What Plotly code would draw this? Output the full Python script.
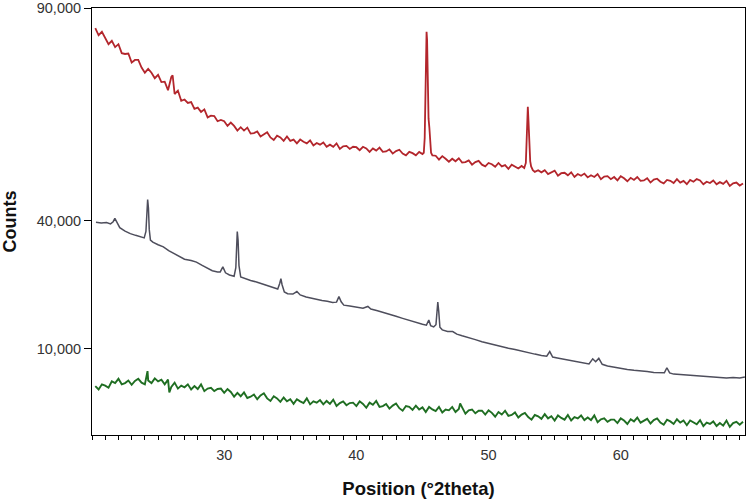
import plotly.graph_objects as go

# ---- data (thousands of counts) ----
red_x = [20.25, 20.5, 20.75, 21.0, 21.25, 21.5, 21.75, 22.0, 22.25, 22.5, 22.75, 23.0, 23.25, 23.5, 23.75,
         24.0, 24.25, 24.5, 24.75, 25.0, 25.25, 25.5, 25.75, 26.0, 26.1, 26.25, 26.5, 26.75, 27.0, 27.25,
         27.5, 27.75, 28.0, 28.25, 28.5, 28.75, 29.0, 29.25, 29.5, 29.75, 30.0, 30.25, 30.5, 30.75, 31.0,
         31.25, 31.5, 31.75, 32.0, 32.25, 32.5, 32.75, 33.0, 33.25, 33.5, 33.75, 34.0, 34.25, 34.5, 34.75,
         35.0, 35.25, 35.5, 35.75, 36.0, 36.25, 36.5, 36.75, 37.0, 37.25, 37.5, 37.75, 38.0, 38.25, 38.5,
         38.75, 39.0, 39.25, 39.5, 39.75, 40.0, 40.25, 40.5, 40.75, 41.0, 41.25, 41.5, 41.75, 42.0, 42.25,
         42.5, 42.75, 43.0, 43.25, 43.5, 43.75, 44.0, 44.25, 44.5, 44.75, 45.0, 45.1, 45.17, 45.22, 45.27,
         45.31, 45.35, 45.4, 45.46, 45.52, 45.58, 45.65, 45.75, 46.0, 46.25, 46.5, 46.75, 47.0, 47.25, 47.5,
         47.75, 48.0, 48.25, 48.5, 48.75, 49.0, 49.25, 49.5, 49.75, 50.0, 50.25, 50.5, 50.75, 51.0, 51.25,
         51.5, 51.75, 52.0, 52.25, 52.5, 52.7, 52.82, 52.88, 52.93, 52.97, 53.02, 53.08, 53.15, 53.22, 53.35,
         53.5, 53.75, 54.0, 54.25, 54.5, 54.75, 55.0, 55.25, 55.5, 55.75, 56.0, 56.25, 56.5, 56.75, 57.0,
         57.25, 57.5, 57.75, 58.0, 58.25, 58.5, 58.75, 59.0, 59.25, 59.5, 59.75, 60.0, 60.25, 60.5, 60.75,
         61.0, 61.25, 61.5, 61.75, 62.0, 62.25, 62.5, 62.75, 63.0, 63.25, 63.5, 63.75, 64.0, 64.25, 64.5,
         64.75, 65.0, 65.25, 65.5, 65.75, 66.0, 66.25, 66.5, 66.75, 67.0, 67.25, 67.5, 67.75, 68.0, 68.25,
         68.5, 68.75, 69.0, 69.25]
red_k = [85.3, 83.6, 84.4, 83.1, 81.5, 82.3, 80.8, 81.5, 79.4, 79.2, 79.3, 77.2, 77.8, 77.8, 76.0,
         74.8, 75.7, 74.8, 73.5, 74.3, 72.6, 72.7, 70.7, 73.8, 74.2, 69.8, 70.6, 68.2, 68.5, 67.7,
         67.9, 66.3, 66.6, 65.6, 66.2, 64.3, 64.7, 64.6, 63.4, 63.7, 63.4, 62.3, 63.1, 62.3, 61.2,
         62.0, 61.2, 61.9, 60.5, 60.6, 61.0, 59.8, 60.4, 60.8, 59.6, 59.0, 60.0, 59.6, 58.8, 59.8,
         58.8, 59.1, 58.2, 59.1, 58.6, 58.2, 58.9, 57.7, 58.3, 57.9, 58.4, 57.4, 57.9, 57.4, 58.2,
         56.9, 57.5, 57.6, 56.9, 57.4, 57.3, 56.6, 57.4, 57.0, 56.2, 57.0, 56.5, 57.2, 56.2, 56.3,
         56.8, 55.8, 56.4, 56.7, 55.8, 55.4, 56.2, 55.9, 55.4, 56.2, 55.7, 56.0, 59.5, 70.0, 81.0,
         84.4, 82.5, 73.0, 64.0, 62.0, 58.5, 56.0, 55.4, 55.3, 54.4, 55.2, 54.6, 53.9, 54.6, 54.0,
         54.7, 53.7, 53.8, 54.2, 53.2, 53.8, 54.1, 53.2, 52.8, 53.6, 53.3, 52.7, 53.6, 52.8, 53.1,
         52.2, 53.2, 52.7, 52.3, 52.9, 52.4, 53.6, 59.0, 65.5, 66.8, 63.5, 57.5, 54.0, 52.8, 51.9,
         51.5, 51.9, 51.4, 51.9, 51.0, 51.5, 51.8, 50.6, 51.2, 51.3, 50.7, 51.4, 50.3, 51.0, 50.6,
         51.1, 50.2, 50.7, 50.3, 51.0, 49.8, 50.4, 50.5, 49.8, 50.3, 49.5, 50.5, 50.0, 49.3, 50.1,
         49.6, 50.3, 49.4, 49.5, 50.0, 49.0, 49.7, 49.9, 49.2, 48.8, 49.6, 49.4, 48.9, 49.8, 49.0,
         49.4, 48.6, 49.6, 49.2, 49.8, 49.5, 48.6, 49.2, 48.9, 49.5, 48.6, 49.1, 48.7, 49.4, 48.2,
         48.8, 49.0, 48.3, 48.8]

gray_x = [20.3, 20.7, 21.1, 21.4, 21.6, 21.73, 21.9, 22.1, 22.5, 22.9, 23.3, 23.7, 23.95, 24.08, 24.15,
          24.21, 24.27, 24.33, 24.42, 24.6, 25.0, 25.4, 25.8, 26.2, 26.6, 27.0, 27.5, 27.9, 28.3, 28.7,
          29.1, 29.5, 29.7, 29.9, 30.1, 30.4, 30.75, 30.88, 30.94, 30.99, 31.05, 31.12, 31.25, 31.6, 32.0,
          32.5, 32.9, 33.3, 33.7, 34.05, 34.2, 34.29, 34.38, 34.55, 34.8, 35.2, 35.5, 35.75, 36.2, 36.6,
          37.0, 37.4, 37.8, 38.2, 38.5, 38.68, 38.85, 39.05, 39.5, 40.0, 40.5, 40.87, 41.1, 41.6, 42.1,
          42.5, 43.0, 43.5, 44.0, 44.5, 45.0, 45.3, 45.48, 45.62, 45.85, 46.02, 46.09, 46.16, 46.23, 46.32,
          46.5, 46.9, 47.29, 47.6, 48.0, 48.5, 49.0, 49.5, 50.0, 50.5, 51.0, 51.5, 52.0, 52.5, 53.0,
          53.5, 54.0, 54.4, 54.63, 54.85, 55.2, 55.7, 56.2, 56.7, 57.2, 57.6, 57.88, 58.1, 58.34, 58.6,
          59.0, 59.5, 60.0, 60.5, 61.0, 61.5, 62.0, 62.5, 63.0, 63.3, 63.49, 63.7, 64.0, 64.5, 65.0,
          65.5, 66.0, 66.5, 67.0, 67.5, 68.0, 68.5, 69.0, 69.39]
gray_k = [39.7, 39.5, 39.6, 39.3, 39.8, 40.6, 39.6, 38.4, 37.6, 37.0, 36.6, 36.3, 36.0, 37.5, 42.5,
          45.0, 43.0, 38.0, 35.5, 35.0, 34.4, 33.9, 33.0, 32.3, 31.5, 31.0, 30.7, 30.3, 29.6, 28.9,
          28.3, 28.0, 28.0, 29.2, 27.8, 27.3, 27.0, 29.0, 35.0, 37.5, 35.5, 29.5, 26.8, 26.4, 26.0,
          25.6, 25.2, 24.8, 24.3, 24.0, 25.3, 26.4, 25.0, 23.3, 22.9, 22.8, 23.4, 22.6, 22.1, 21.8,
          21.6, 21.3, 21.1, 20.8, 20.9, 22.2, 21.0, 20.2, 20.0, 19.8, 19.5, 19.9, 19.3, 18.9, 18.5,
          18.1, 17.6, 17.1, 16.6, 16.2, 15.7, 15.5, 16.7, 15.4, 15.1, 15.6, 18.5, 20.9, 18.8, 15.0,
          14.4, 14.0, 14.0, 13.4, 13.0, 12.6, 12.1, 11.6, 11.2, 10.9, 10.5, 10.1, 9.8, 9.4, 9.0,
          8.7, 8.4, 8.2, 9.3, 8.0, 7.8, 7.5, 7.1, 6.8, 6.5, 6.4, 7.6, 6.9, 7.7, 6.3,
          5.9, 5.6, 5.3, 5.1, 4.9, 4.8, 4.6, 4.4, 4.3, 4.3, 5.5, 4.3, 4.0, 3.9, 3.8,
          3.6, 3.5, 3.4, 3.3, 3.2, 3.1, 3.2, 3.1, 3.3]

green_x = [20.25, 20.5, 20.75, 21.0, 21.25, 21.5, 21.75, 22.0, 22.25, 22.5, 22.75, 23.0, 23.25, 23.5, 23.75,
           24.0, 24.2, 24.25, 24.5, 24.75, 25.0, 25.25, 25.5, 25.75, 25.85, 26.0, 26.25, 26.5, 26.75, 27.0,
           27.25, 27.5, 27.75, 28.0, 28.25, 28.5, 28.75, 29.0, 29.25, 29.5, 29.75, 30.0, 30.25, 30.5, 30.75,
           31.0, 31.25, 31.5, 31.75, 32.0, 32.25, 32.5, 32.75, 33.0, 33.25, 33.5, 33.75, 34.0, 34.25, 34.5,
           34.75, 35.0, 35.25, 35.5, 35.75, 36.0, 36.25, 36.5, 36.75, 37.0, 37.25, 37.5, 37.75, 38.0, 38.25,
           38.5, 38.75, 39.0, 39.25, 39.5, 39.75, 40.0, 40.25, 40.5, 40.75, 41.0, 41.25, 41.5, 41.75, 42.0,
           42.25, 42.5, 42.75, 43.0, 43.25, 43.5, 43.75, 44.0, 44.25, 44.5, 44.75, 45.0, 45.25, 45.5, 45.75,
           46.0, 46.25, 46.5, 46.75, 47.0, 47.25, 47.5, 47.75, 47.85, 48.0, 48.25, 48.5, 48.75, 49.0, 49.25,
           49.5, 49.75, 50.0, 50.25, 50.5, 50.75, 51.0, 51.25, 51.5, 51.75, 52.0, 52.25, 52.5, 52.75, 53.0,
           53.25, 53.5, 53.75, 54.0, 54.25, 54.5, 54.75, 55.0, 55.25, 55.5, 55.75, 56.0, 56.25, 56.5, 56.75,
           57.0, 57.25, 57.5, 57.75, 58.0, 58.25, 58.5, 58.75, 59.0, 59.25, 59.5, 59.75, 60.0, 60.25, 60.5,
           60.75, 61.0, 61.25, 61.5, 61.75, 62.0, 62.25, 62.5, 62.75, 63.0, 63.25, 63.5, 63.75, 64.0, 64.25,
           64.5, 64.75, 65.0, 65.25, 65.5, 65.75, 66.0, 66.25, 66.5, 66.75, 67.0, 67.25, 67.5, 67.75, 68.0,
           68.25, 68.5, 68.75, 69.0, 69.25]
green_k = [1.2, 0.4, 1.6, 1.3, 0.8, 2.3, 1.9, 2.9, 1.6, 1.9, 2.5, 1.5, 2.4, 2.9, 2.0,
           1.6, 4.7, 2.5, 1.9, 3.0, 2.3, 2.7, 1.6, 2.7, -0.3, 1.0, 2.0, 0.6, 1.3, 0.9,
           1.6, 0.4, 1.2, 0.5, 1.6, 0.0, 0.6, 0.8, 0.0, 0.5, 0.6, -0.4, 0.5, -0.2, -1.3,
           -0.4, -1.2, -0.3, -1.6, -1.3, -0.8, -1.9, -1.0, -0.5, -1.7, -2.3, -1.2, -1.7, -2.5, -1.5,
           -2.4, -1.9, -3.0, -1.9, -2.4, -2.8, -1.7, -3.1, -2.4, -2.7, -2.1, -3.1, -2.3, -3.0, -2.0,
           -3.5, -2.8, -2.4, -3.3, -2.8, -2.7, -3.5, -2.4, -3.0, -3.9, -2.7, -3.2, -2.3, -3.7, -3.5,
           -3.0, -4.1, -3.4, -2.9, -4.0, -4.6, -3.5, -3.7, -4.4, -3.4, -4.3, -3.8, -4.9, -3.7, -4.3,
           -4.7, -3.7, -5.0, -4.3, -4.5, -3.7, -4.9, -4.2, -2.9, -3.8, -5.3, -4.5, -4.3, -5.2, -4.6,
           -4.6, -5.5, -4.5, -5.1, -6.0, -4.9, -5.5, -4.6, -5.8, -5.6, -5.0, -6.2, -5.5, -5.1, -6.1,
           -6.7, -5.6, -5.9, -6.5, -5.4, -6.4, -5.9, -6.9, -5.7, -6.3, -6.7, -5.6, -6.9, -6.1, -6.4,
           -5.7, -6.8, -6.2, -6.8, -5.7, -7.3, -6.6, -6.4, -7.2, -6.7, -6.7, -7.5, -6.4, -6.9, -7.7,
           -6.6, -7.1, -6.2, -7.4, -7.0, -6.5, -7.6, -6.8, -6.4, -7.4, -7.9, -6.7, -7.1, -7.7, -6.6,
           -7.4, -6.9, -8.0, -6.9, -7.4, -7.8, -6.8, -8.2, -7.4, -7.7, -7.1, -8.2, -7.5, -8.1, -6.9,
           -8.4, -7.5, -7.2, -7.9, -7.2]

y_ticks = [10000, 40000, 90000]
x_ticks = [30, 40, 50, 60]

red_counts = [v * 1000 for v in red_k]
gray_counts = [v * 1000 for v in gray_k]
green_counts = [v * 1000 for v in green_k]

fig = go.Figure()
fig.add_trace(go.Scatter(x=red_x, y=red_counts, mode="lines",
                         line=dict(color="#b3262c", width=1.8)))
fig.add_trace(go.Scatter(x=gray_x, y=gray_counts, mode="lines",
                         line=dict(color="#4e4e5c", width=1.5)))
fig.add_trace(go.Scatter(x=green_x, y=green_counts, mode="lines",
                         line=dict(color="#1f6e22", width=1.9)))

fig.update_layout(
    width=749, height=499,
    margin=dict(l=92, r=4, t=8, b=64),
    plot_bgcolor="white", paper_bgcolor="white",
    showlegend=False,
    font=dict(family="Liberation Sans, Arial, sans-serif", color="#222222"),
)
fig.update_xaxes(
    range=[20.0, 69.4], showgrid=False, zeroline=False, automargin=False,
    showline=True, linecolor="black", linewidth=1, mirror=True,
    ticks="outside", ticklen=4, tickcolor="black", tickvals=x_ticks,
    minor=dict(dtick=1, tick0=0, ticks="outside", ticklen=4, tickcolor="black"),
    tickfont=dict(size=14.5, color="#333333"), ticklabelstandoff=3,
    title=dict(text="<b>Position (°2theta)</b>", font=dict(size=18.5, color="#111111"), standoff=19),
)
fig.update_yaxes(
    range=[-10300, 90000], showgrid=False, zeroline=False, automargin=False,
    showline=True, linecolor="black", linewidth=1, mirror=True,
    ticks="outside", ticklen=7, tickcolor="black", tickvals=y_ticks, tickformat=",d",
    tickfont=dict(size=14.5, color="#333333"),
    title=dict(text="<b>Counts</b>", font=dict(size=18, color="#111111"), standoff=22),
)

fig.write_html("out.html", config={"displayModeBar": False},
               post_script="document.body.style.margin='0px';")
